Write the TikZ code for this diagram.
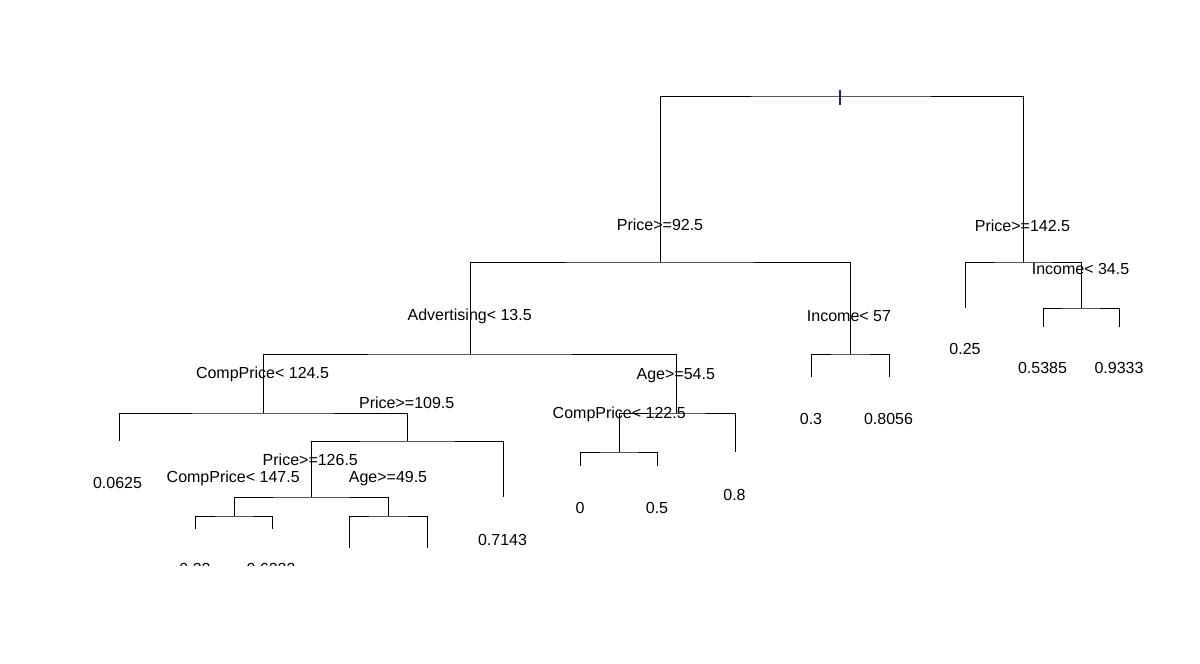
\documentclass[tikz,border=0pt]{standalone}
\usepackage{fontspec}
\setmainfont{Liberation Sans}
\usepackage{tikz}
\usetikzlibrary{positioning,calc}
\definecolor{rootmark}{RGB}{55,25,105}

\begin{document}
\begin{tikzpicture}[x=0.75pt, y=-0.75pt, line width=0.75pt,
    split/.style={anchor=base, inner sep=0pt, font=\fontsize{12}{14}\selectfont},
    leaf/.style={anchor=base, inner sep=0pt, font=\fontsize{12}{14}\selectfont}]
    \useasboundingbox (0,0) rectangle (1200,664);

    % junctions
    \coordinate (root) at (840,96);
    \coordinate (pr92) at (660,262);
    \coordinate (pr142) at (1023,262);
    \coordinate (adv) at (470,354);
    \coordinate (inc57) at (850,354);
    \coordinate (inc34) at (1081,308);
    \coordinate (cp124) at (263,413);
    \coordinate (age54) at (676,413);
    \coordinate (pr109) at (407,441);
    \coordinate (pr126) at (311,497);
    \coordinate (cp147) at (234,516);
    \coordinate (age49) at (388,516);
    \coordinate (cp122) at (619,452);
    % leaf ends
    \coordinate (lf25) at (965,308);
    \coordinate (lf5385) at (1043,327);
    \coordinate (lf9333) at (1119,327);
    \coordinate (lf3) at (811,377);
    \coordinate (lf8056) at (889,377);
    \coordinate (lf0625) at (119,441);
    \coordinate (lf7143) at (503,497);
    \coordinate (lfa) at (195,529);
    \coordinate (lfb) at (272,529);
    \coordinate (lfc) at (349,548);
    \coordinate (lfd) at (427,548);
    \coordinate (lf0) at (580,466);
    \coordinate (lf5) at (657,466);
    \coordinate (lf8) at (735,452);

    % branches
    \draw (pr92) |- (root) -| (pr142);
    \draw (adv) |- (pr92) -| (inc57);
    \draw (lf25) |- (pr142) -| (inc34);
    \draw (lf5385) |- (inc34) -| (lf9333);
    \draw (lf3) |- (inc57) -| (lf8056);
    \draw (cp124) |- (adv) -| (age54);
    \draw (lf0625) |- (cp124) -| (pr109);
    \draw (pr126) |- (pr109) -| (lf7143);
    \draw (cp147) |- (pr126) -| (age49);
    \draw (lfa) |- (cp147) -| (lfb);
    \draw (lfc) |- (age49) -| (lfd);
    \draw (cp122) |- (age54) -| (lf8);
    \draw (lf0) |- (cp122) -| (lf5);
    \draw[rootmark, line width=0.9pt] ($(root)+(0,-6)$) -- ($(root)+(0,9)$);

    % split labels
    \node[split] (t92) at (660,230.5) {Price>=92.5};
    \node[split] (t142) at (1022.5,231) {Price>=142.5};
    \node[split] (tadv) at (469.7,320.5) {Advertising< 13.5};
    \node[split] (tinc57) at (849,321) {Income< 57};
    \node[split] (tinc34) at (1080.5,274) {Income< 34.5};
    \node[split] (tcp124) at (262.5,378.5) {CompPrice< 124.5};
    \node[split] (t109) at (406.7,408.5) {Price>=109.5};
    \node[split] (tage54) at (675.8,379) {Age>=54.5};
    \node[split] (tcp122) at (619.2,418.3) {CompPrice< 122.5};
    \node[split] (t126) at (310.3,465) {Price>=126.5};
    \node[split] (tcp147) at (233.2,482.7) {CompPrice< 147.5};
    \node[split] (tage49) at (388,482.7) {Age>=49.5};

    % leaf values
    \node[leaf] (v25) at (965,354.3) {0.25};
    \node[leaf] (v5385) at (1042.5,373.3) {0.5385};
    \node[leaf] (v9333) at (1119,373.3) {0.9333};
    \node[leaf] (v3) at (811,424) {0.3};
    \node[leaf] (v8056) at (888.5,424) {0.8056};
    \node[leaf] (v0625) at (117.5,488.5) {0.0625};
    \node[leaf] (v7143) at (502.5,545) {0.7143};
    \node[leaf] (v0) at (580,513.3) {0};
    \node[leaf] (v5) at (657,513.3) {0.5};
    \node[leaf] (v8) at (734.5,500) {0.8};
    \begin{scope}
        \clip (0,0) rectangle (1200,565);
        \node[leaf] (va) at (195,574) {0.33};
        \node[leaf] (vb) at (271,574) {0.6333};
    \end{scope}
\end{tikzpicture}
\end{document}
